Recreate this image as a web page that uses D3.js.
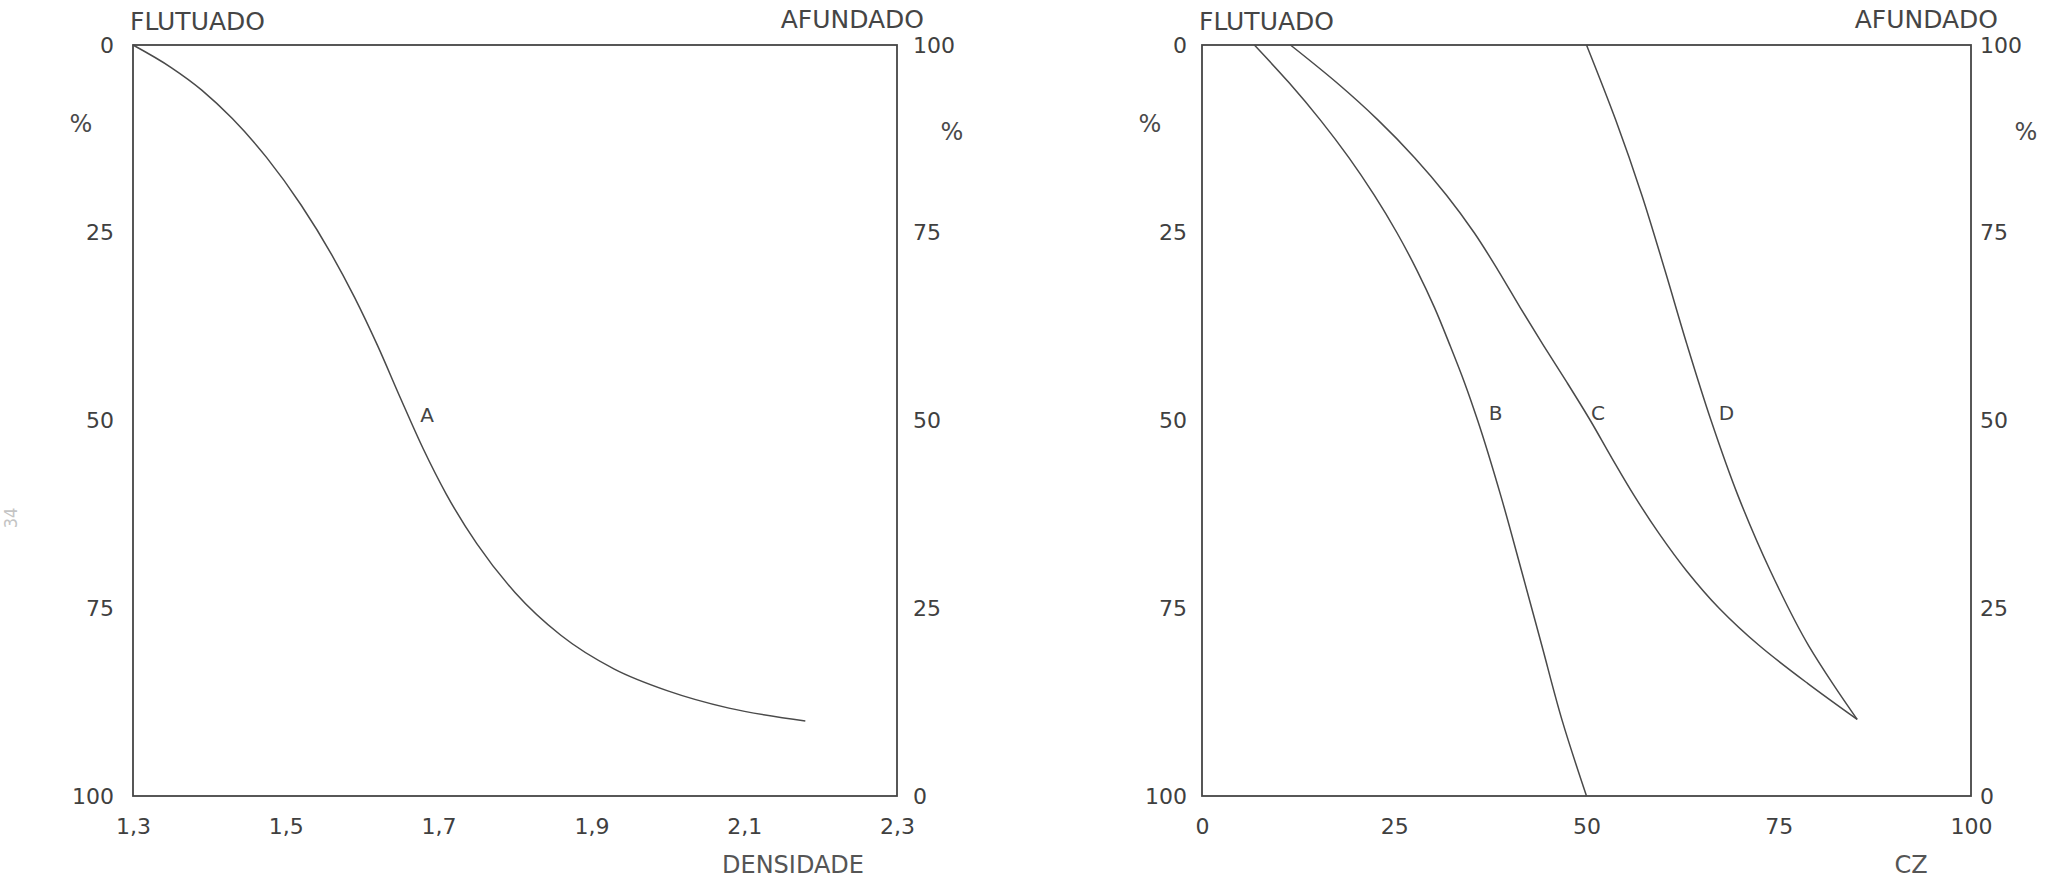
<!DOCTYPE html>
<html>
<head>
<meta charset="utf-8">
<script src="https://cdn.jsdelivr.net/npm/d3@7"></script>
<style>
  html, body { margin: 0; padding: 0; background: #fff; }
  svg { display: block; }
  .tick text { font-family: "DejaVu Sans", sans-serif; font-size: 22px; fill: #404040; }
  .title { font-family: "DejaVu Sans", sans-serif; font-size: 25px; fill: #454545; }
  .unit { font-family: "DejaVu Sans", sans-serif; font-size: 24px; fill: #4a4a4a; }
  .axis-title { font-family: "DejaVu Sans", sans-serif; font-size: 24px; fill: #555; }
  .curve-label { font-family: "DejaVu Sans", sans-serif; font-size: 20px; fill: #444; }
</style>
</head>
<body>
<svg id="chart" width="2071" height="880"></svg>
<script>
// Curve A: cumulative floated mass (%) against density
const densidadeA = [1.30, 1.35, 1.39, 1.43, 1.475, 1.52, 1.56, 1.59, 1.62, 1.65, 1.68, 1.71, 1.75, 1.80, 1.86, 1.93, 2.00, 2.08, 2.18];
const pctA       = [0,    3.0,  6.0,  9.8,  15.0,  21.3, 27.9, 33.6, 40.0, 47.0, 53.8, 59.8, 66.4, 72.9, 78.6, 83.1, 86.0, 88.3, 90.0];

// Curves B, C, D: cumulative floated mass (%) against ash content (CZ)
const pctB = [0,   5,    10,   15,   20,   25,    30,    35,    40,    45,    50,    60,    70,    80,   90,    100];
const czB  = [6.8, 11.3, 15.4, 19.1, 22.4, 25.35, 27.95, 30.25, 32.25, 34.15, 35.85, 38.85, 41.55, 44.2, 46.85, 50];

const pctC = [0,    5,    10,   15,    20,   25,   30,   35,   40,   45,   50,   55,   60,   65,   70, 75,    80,   85,    89.8];
const czC  = [11.5, 17.5, 22.9, 27.65, 31.8, 35.4, 38.5, 41.4, 44.4, 47.5, 50.5, 53.3, 56.2, 59.4, 63, 67.25, 72.5, 78.75, 85.2];

const pctD = [0,  10,   20,   30,   40,   50,   60,   70,   80,   85,   89.8];
const czD  = [50, 53.8, 57.2, 60.2, 63.1, 66.2, 69.7, 73.9, 78.9, 82.0, 85.2];

// Curve name labels and where they sit (x in the panel's units, y in %)
const labelsLeft  = ["A"];
const labelLeftX  = [1.676];
const labelLeftY  = [49.3];
const labelsRight = ["B", "C", "D"];
const labelRightX = [37.3, 50.6, 67.2];
const labelRightY = [49, 49, 49];

// Tick values
const pctTicks = [0, 25, 50, 75, 100];
const densTicks = [1.3, 1.5, 1.7, 1.9, 2.1, 2.3];
const czTicks = [0, 25, 50, 75, 100];

const svg = d3.select("#chart");
const ink = "#454545";

const y = d3.scaleLinear().domain([0, 100]).range([45, 796]);        // floated % (downwards)
const ySink = d3.scaleLinear().domain([100, 0]).range([45, 796]);    // sunk % (upwards)
const xL = d3.scaleLinear().domain([1.3, 2.3]).range([133, 897]);
const xR = d3.scaleLinear().domain([0, 100]).range([1202, 1971]);

const fmtDens = d => d3.format(".1f")(d).replace(".", ",");

function panel(x, xTicks, xFmt, padLeft, padRight, xTitle, xTitleX) {
  const [x0, x1] = x.range();
  const g = svg.append("g");

  // left axis: floated %
  const la = g.append("g").attr("transform", `translate(${x0},0)`)
    .call(d3.axisLeft(y).tickValues(pctTicks).tickSize(0).tickPadding(padLeft));
  la.select(".domain").remove();

  // right axis: sunk %
  const ra = g.append("g").attr("transform", `translate(${x1},0)`)
    .call(d3.axisRight(ySink).tickValues(pctTicks).tickSize(0).tickPadding(padRight));
  ra.select(".domain").remove();

  // bottom axis
  const ba = g.append("g").attr("transform", `translate(0,${y(100)})`)
    .call(d3.axisBottom(x).tickValues(xTicks).tickFormat(xFmt).tickSize(0).tickPadding(22));
  ba.select(".domain").remove();

  // frame
  g.append("rect")
    .attr("x", x0).attr("y", y(0))
    .attr("width", x1 - x0).attr("height", y(100) - y(0))
    .attr("fill", "none").attr("stroke", ink).attr("stroke-width", 1.8);

  // headings
  g.append("text").attr("class", "title").attr("x", x0 - 3).attr("y", 30).text("FLUTUADO");
  g.append("text").attr("class", "title").attr("x", x1 + 27).attr("y", 28)
    .attr("text-anchor", "end").text("AFUNDADO");

  // % units beside both vertical axes
  g.append("text").attr("class", "unit").attr("x", x0 - 52).attr("y", 132)
    .attr("text-anchor", "middle").text("%");
  g.append("text").attr("class", "unit").attr("x", x1 + 55).attr("y", 140)
    .attr("text-anchor", "middle").text("%");

  // x-axis title
  g.append("text").attr("class", "axis-title").attr("x", xTitleX).attr("y", 873)
    .attr("text-anchor", "middle").text(xTitle);
  return g;
}

const gL = panel(xL, densTicks, fmtDens, 19, 16, "DENSIDADE", 793);
const gR = panel(xR, czTicks, d3.format("d"), 15, 9, "CZ", 1911);

function drawCurve(g, pts, curve) {
  const line = d3.line().curve(curve).x(d => d[0]).y(d => d[1]);
  g.append("path")
    .datum(pts)
    .attr("d", line)
    .attr("fill", "none").attr("stroke", "#4a4a4a").attr("stroke-width", 1.5)
    .attr("stroke-linejoin", "round");
}

drawCurve(gL, densidadeA.map((d, i) => [xL(d), y(pctA[i])]), d3.curveMonotoneX);
drawCurve(gR, czB.map((c, i) => [xR(c), y(pctB[i])]), d3.curveMonotoneY);
drawCurve(gR, czC.map((c, i) => [xR(c), y(pctC[i])]), d3.curveMonotoneY);
drawCurve(gR, czD.map((c, i) => [xR(c), y(pctD[i])]), d3.curveMonotoneY);

labelsLeft.forEach((t, i) => gL.append("text").attr("class", "curve-label")
  .attr("x", xL(labelLeftX[i])).attr("y", y(labelLeftY[i])).attr("dy", "0.35em").text(t));
labelsRight.forEach((t, i) => gR.append("text").attr("class", "curve-label")
  .attr("x", xR(labelRightX[i])).attr("y", y(labelRightY[i])).attr("dy", "0.35em").text(t));

// page number in the margin
svg.append("text")
  .attr("transform", "translate(17,518) rotate(-90)")
  .attr("text-anchor", "middle")
  .attr("font-family", "DejaVu Sans Condensed, DejaVu Sans, sans-serif")
  .attr("font-size", 18).attr("fill", "#c4c4c4")
  .text("34");
</script>
</body>
</html>
